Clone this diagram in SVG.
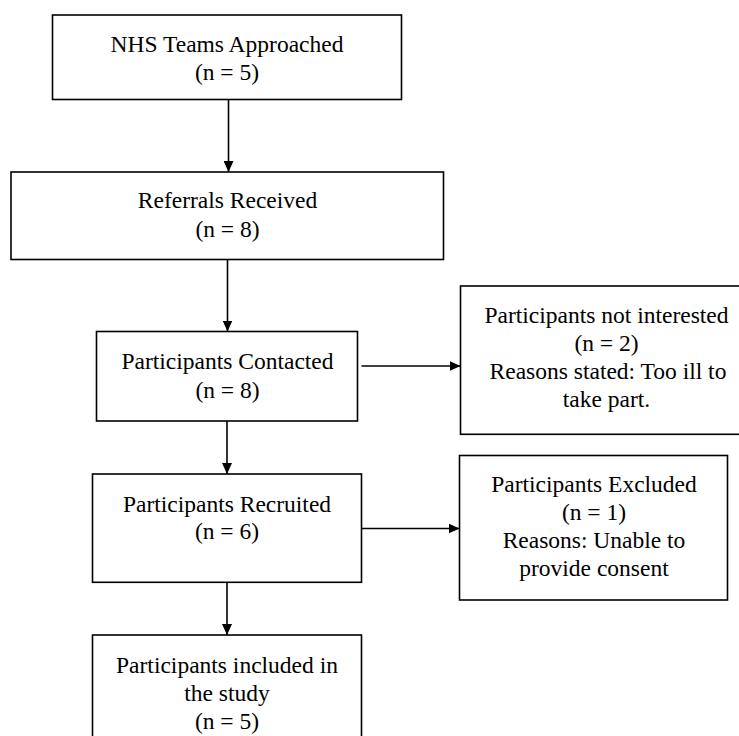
<svg xmlns="http://www.w3.org/2000/svg" width="739" height="736" viewBox="0 0 739 736">
<style>
.box{fill:#fff;stroke:#000;stroke-width:1.6}
.lbl{font-family:'Liberation Serif','Times New Roman','DejaVu Serif',serif;font-size:23.5px;fill:#000;text-anchor:middle}
.con{stroke:#000;stroke-width:1.6;fill:none;marker-end:url(#ah)}
</style>
<defs>
<marker id="ah" markerUnits="userSpaceOnUse" markerWidth="11" markerHeight="10" refX="11" refY="5" orient="auto">
<path d="M0,0 L11,5 L0,10 Z" fill="#000"/>
</marker>
</defs>
<rect width="739" height="736" fill="#fff"/>
<g id="connectors">
<line class="con" x1="228.5" y1="99.5" x2="228.5" y2="172"/>
<line class="con" x1="227.5" y1="259.5" x2="227.5" y2="331.5"/>
<line class="con" x1="227" y1="421" x2="227" y2="474"/>
<line class="con" x1="227" y1="582" x2="227" y2="635"/>
<line class="con" x1="361.5" y1="366" x2="460.5" y2="366"/>
<line class="con" x1="361.5" y1="528.5" x2="459.5" y2="528.5"/>
</g>
<g id="n1">
<rect class="box" x="52.5" y="15" width="349" height="84.5"/>
<text class="lbl" x="227" y="51.7" font-family="Liberation Serif, serif">NHS Teams Approached</text>
<text class="lbl" x="227" y="80">(n = 5)</text>
</g>
<g id="n2">
<rect class="box" x="11" y="172" width="432.5" height="87.5"/>
<text class="lbl" x="227.5" y="208.3">Referrals Received</text>
<text class="lbl" x="227.5" y="237">(n = 8)</text>
</g>
<g id="n3">
<rect class="box" x="96.5" y="331.5" width="261" height="89.5"/>
<text class="lbl" x="227.5" y="369.3">Participants Contacted</text>
<text class="lbl" x="227.5" y="397.7">(n = 8)</text>
</g>
<g id="n4">
<rect class="box" x="460.5" y="286" width="292" height="148.3"/>
<text class="lbl" x="606.5" y="322.7">Participants not interested</text>
<text class="lbl" x="606.5" y="351">(n = 2)</text>
<text class="lbl" x="608" y="379">Reasons stated: Too ill to</text>
<text class="lbl" x="606.5" y="406.7">take part.</text>
</g>
<g id="n5">
<rect class="box" x="92.5" y="474" width="269" height="108.3"/>
<text class="lbl" x="227" y="511.7">Participants Recruited</text>
<text class="lbl" x="227" y="539.3">(n = 6)</text>
</g>
<g id="n6">
<rect class="box" x="459.5" y="455.5" width="268" height="144.5"/>
<text class="lbl" x="594" y="491.7">Participants Excluded</text>
<text class="lbl" x="594" y="520">(n = 1)</text>
<text class="lbl" x="594" y="548.3">Reasons: Unable to</text>
<text class="lbl" x="594" y="576">provide consent</text>
</g>
<g id="n7">
<rect class="box" x="92.5" y="635" width="269" height="130"/>
<text class="lbl" x="227" y="672.7">Participants included in</text>
<text class="lbl" x="227" y="701">the study</text>
<text class="lbl" x="227" y="729.3">(n = 5)</text>
</g>
</svg>
